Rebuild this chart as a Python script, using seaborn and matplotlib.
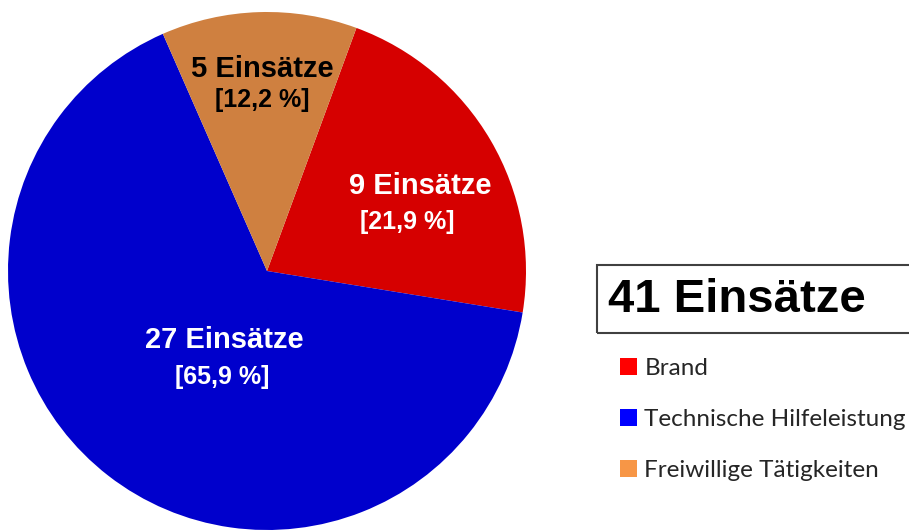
import matplotlib
matplotlib.use("Agg")
import matplotlib.pyplot as plt
import seaborn as sns
from matplotlib.patches import Patch, Rectangle

# Daten
kategorien = ["Brand", "Technische Hilfeleistung", "Freiwillige Tätigkeiten"]
einsaetze = [9, 27, 5]
prozent = ["21,9 %", "65,9 %", "12,2 %"]
farben_torte = ["#D60000", "#0000CC", "#CF8040"]
farben_legende = ["#FF0000", "#0000FF", "#F79646"]
text_farben = ["white", "white", "black"]
gesamt_text = "41 Einsätze"

sns.set_theme(style="white")
plt.rcParams["font.family"] = ["Liberation Sans", "DejaVu Sans"]

fig = plt.figure(figsize=(9.09, 5.30), dpi=100)
ax = fig.add_axes([8 / 909, 0.0, 518 / 909, 518 / 530])

ax.pie(einsaetze, colors=farben_torte, startangle=69.8, counterclock=False,
       wedgeprops=dict(linewidth=0))
ax.set_xlim(-1, 1)
ax.set_ylim(-1, 1)

# Beschriftungen (Position je Segment)
pos_oben = [(0.59, 0.33), (-0.166, -0.266), (-0.02, 0.78)]
pos_unten = [(0.54, 0.19), (-0.174, -0.41), (-0.02, 0.66)]
for i in range(len(kategorien)):
    ax.text(*pos_oben[i], f"{einsaetze[i]} Einsätze", ha="center", va="center",
            fontsize=21, fontweight="bold", color=text_farben[i])
    ax.text(*pos_unten[i], f"[{prozent[i]}]", ha="center", va="center",
            fontsize=18, fontweight="bold", color=text_farben[i])

# Gesamtbox
fig.patches.append(Rectangle((597 / 909, (530 - 333) / 530), 0.4, 68 / 530,
                             transform=fig.transFigure, fill=False,
                             edgecolor="#404040", linewidth=1.5))
fig.text(608 / 909, (530 - 300) / 530, gesamt_text, ha="left", va="center",
         fontsize=34, fontweight="bold", color="black")

# Legende
handles = [Patch(facecolor=c, edgecolor="none") for c in farben_legende]
fig.legend(handles, kategorien, loc="upper left",
           bbox_to_anchor=(620 / 909, (530 - 358) / 530),
           frameon=False, handlelength=0.7, handleheight=0.7, handletextpad=0.3,
           labelspacing=1.23, borderpad=0, borderaxespad=0,
           prop={"family": ["Lato", "DejaVu Sans"], "size": 17.5})

fig.savefig("out.png", dpi=100)
